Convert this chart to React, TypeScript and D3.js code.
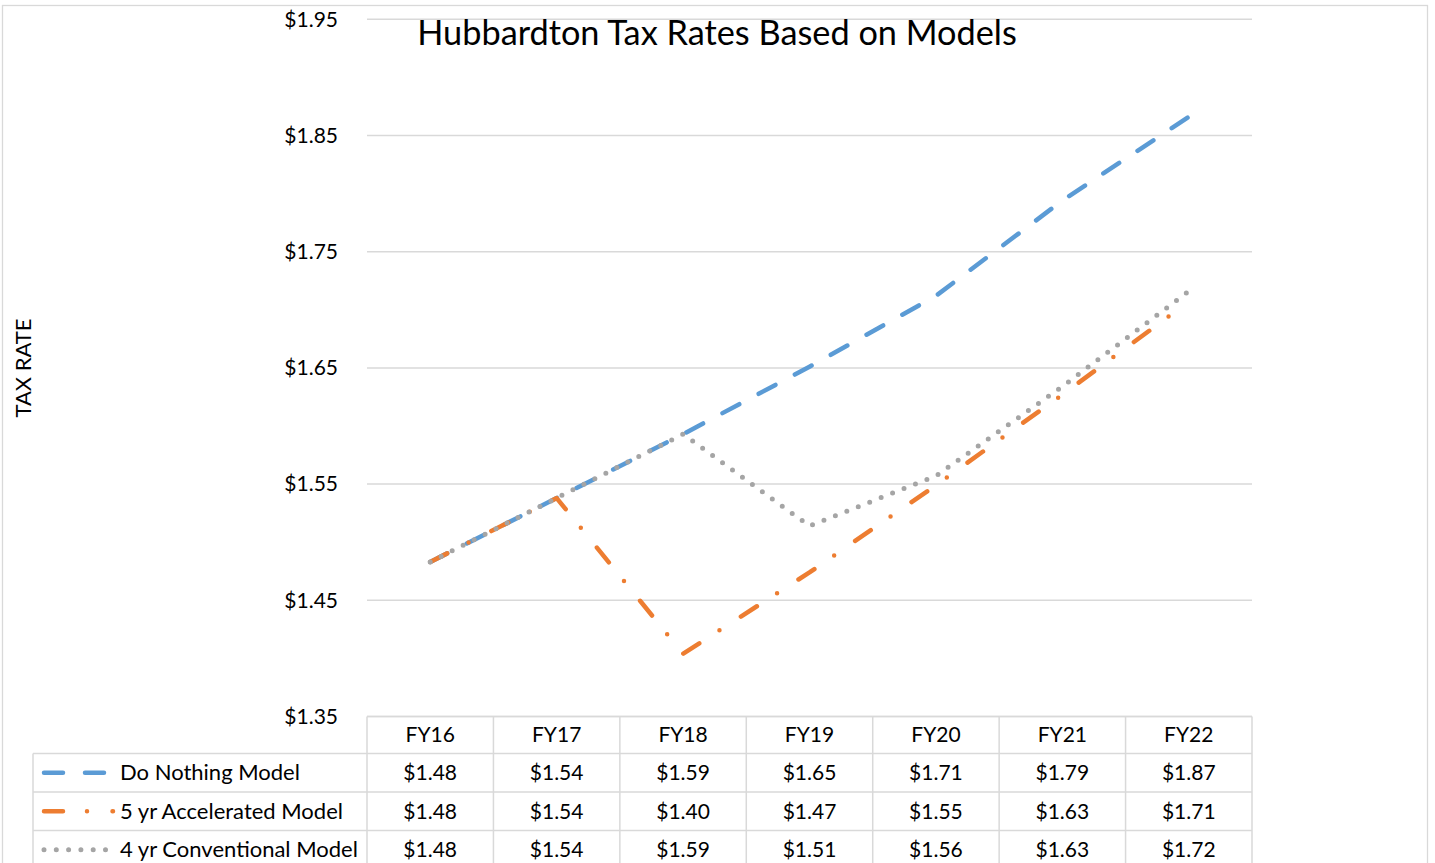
import React, { useEffect } from "react";
import * as d3 from "d3";

// chart data
const years = ["FY16", "FY17", "FY18", "FY19", "FY20", "FY21", "FY22"];
const doNothing = [1.483, 1.538, 1.593, 1.651, 1.712, 1.794, 1.866];
const accelerated = [1.483, 1.538, 1.404, 1.474, 1.549, 1.627, 1.707];
const conventional = [1.483, 1.538, 1.593, 1.514, 1.557, 1.634, 1.716];
// values as shown in the data table
const doNothingTable = ["$1.48", "$1.54", "$1.59", "$1.65", "$1.71", "$1.79", "$1.87"];
const acceleratedTable = ["$1.48", "$1.54", "$1.40", "$1.47", "$1.55", "$1.63", "$1.71"];
const conventionalTable = ["$1.48", "$1.54", "$1.59", "$1.51", "$1.56", "$1.63", "$1.72"];
const yTicks = [1.35, 1.45, 1.55, 1.65, 1.75, 1.85, 1.95];

const W = 1435;
const H = 863;
const FONT = "Lato, 'Open Sans', sans-serif";
const GRID = "#d9d9d9";
const FS = 21;

type Series = {
  name: string;
  values: number[];
  table: string[];
  color: string;
  dash: string;
  width: number;
};

const series: Series[] = [
  { name: "Do Nothing Model", values: doNothing, table: doNothingTable, color: "#5b9bd5", dash: "19 22", width: 4.5 },
  { name: "5 yr Accelerated Model", values: accelerated, table: acceleratedTable, color: "#ed7d31", dash: "19 24 0 25.5", width: 4.5 },
  { name: "4 yr Conventional Model", values: conventional, table: conventionalTable, color: "#a5a5a5", dash: "0 12.3", width: 5 },
];

export default function App() {
  useEffect(() => {
    document.body.style.margin = "0";
    document.body.style.overflow = "hidden";
  }, []);

  const x = d3.scaleBand<string>().domain(years).range([367, 1252]);
  const y = d3.scaleLinear().domain([1.35, 1.95]).range([716.5, 19.3]);
  const cx = (c: string) => (x(c) ?? 0) + x.bandwidth() / 2;

  const line = d3
    .line<number>()
    .x((_, i) => cx(years[i]))
    .y((d) => y(d));

  const tableTop = y(1.35);
  const rowH = 38.5;
  const legendLeft = 33;
  const rows = [tableTop, tableTop + 37, tableTop + 37 + rowH, tableTop + 37 + 2 * rowH, tableTop + 37 + 3 * rowH];

  return (
    <svg width={W} height={H} style={{ display: "block" }} fontFamily={FONT}>
      <rect x={0} y={0} width={W} height={H} fill="#fff" />
      {/* chart border */}
      <rect x={2.5} y={5.5} width={1425} height={H + 20} fill="none" stroke={GRID} strokeWidth={1.3} />

      {/* gridlines */}
      {yTicks.map((t) => (
        <line key={t} x1={367} x2={1252} y1={y(t)} y2={y(t)} stroke={GRID} strokeWidth={1.5} />
      ))}

      {/* y tick labels */}
      {yTicks.map((t) => (
        <text key={t} x={338} y={y(t)} dy="0.35em" textAnchor="end" fontSize={FS} fill="#000">
          {d3.format("$.2f")(t)}
        </text>
      ))}

      <text transform="translate(31,368) rotate(-90)" textAnchor="middle" fontSize={22} fill="#000">
        TAX RATE
      </text>

      <text x={717} y={45} textAnchor="middle" fontSize={34.3} fill="#000">
        Hubbardton Tax Rates Based on Models
      </text>

      {/* series lines */}
      {series.map((s) => (
        <path
          key={s.name}
          d={line(s.values) ?? ""}
          fill="none"
          stroke={s.color}
          strokeWidth={s.width}
          strokeDasharray={s.dash}
          strokeLinecap="round"
          strokeLinejoin="round"
        />
      ))}

      {/* data table */}
      <g stroke={GRID} strokeWidth={1.5}>
        {rows.map((ry, i) => (
          <line key={i} x1={i === 0 ? 367 : legendLeft} x2={1252} y1={ry} y2={ry} />
        ))}
        <line x1={legendLeft} x2={legendLeft} y1={rows[1]} y2={H + 10} />
        {years.map((c) => (
          <line key={c} x1={x(c)} x2={x(c)} y1={tableTop} y2={H + 10} />
        ))}
        <line x1={1252} x2={1252} y1={tableTop} y2={H + 10} />
      </g>

      {years.map((c) => (
        <text key={c} x={cx(c)} y={(rows[0] + rows[1]) / 2} dy="0.35em" textAnchor="middle" fontSize={FS} fill="#000">
          {c}
        </text>
      ))}

      {series.map((s, si) => {
        const cy = (rows[si + 1] + rows[si + 2]) / 2;
        const lineEnd = si === 1 ? 113 : si === 2 ? 107 : 105;
        return (
          <g key={s.name}>
            <line
              x1={44}
              x2={lineEnd}
              y1={cy}
              y2={cy}
              stroke={s.color}
              strokeWidth={s.width}
              strokeDasharray={s.dash}
              strokeLinecap="round"
            />
            <text x={120} y={cy} dy="0.35em" fontSize={22} fill="#000">
              {s.name}
            </text>
            {s.table.map((v, i) => (
              <text key={i} x={cx(years[i])} y={cy} dy="0.35em" textAnchor="middle" fontSize={FS} fill="#000">
                {v}
              </text>
            ))}
          </g>
        );
      })}
    </svg>
  );
}
